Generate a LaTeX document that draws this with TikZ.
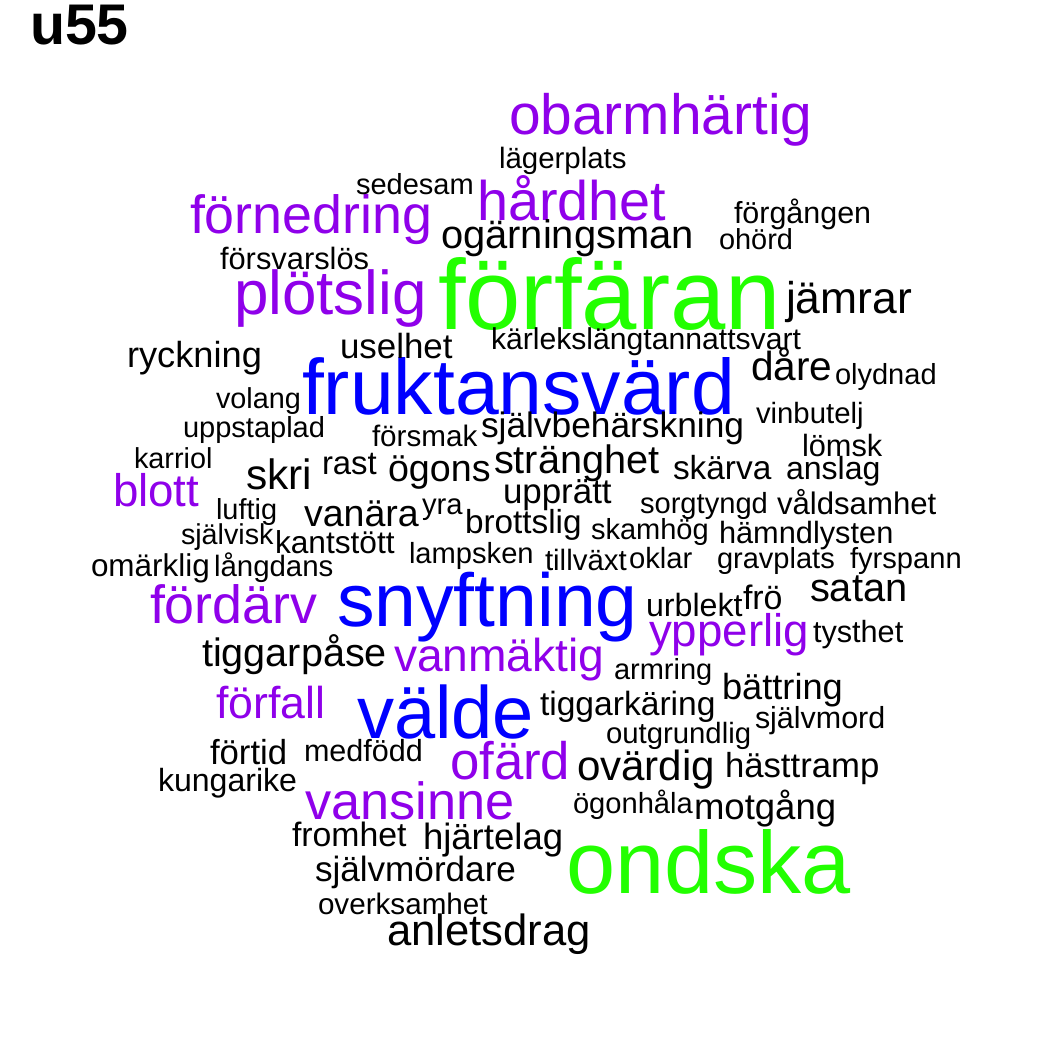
\documentclass[tikz,border=0pt]{standalone}
\usepackage{fontspec}
\setmainfont{Liberation Sans}
\definecolor{wpur}{RGB}{143,0,234}
\definecolor{wblu}{RGB}{0,0,255}
\definecolor{wgrn}{RGB}{34,255,0}
\newcommand\wfs[1]{\fontsize{\fpeval{#1*1.015}pt}{\fpeval{#1*1.015}pt}\selectfont}
\begin{document}
\begin{tikzpicture}[x=1pt,y=-1pt,
  word/.style={anchor=base west, inner sep=0pt, outer sep=0pt},
  blk/.style={word, text=black},
  pur/.style={word, text=wpur},
  blu/.style={word, text=wblu},
  grn/.style={word, text=wgrn}]
\fill[white] (0,0) rectangle (1050,1050);
\useasboundingbox (0,0) rectangle (1050,1050);
\begin{scope}[shift={(0,1.5)}]
\node[blk, font=\bfseries\wfs{56.5}] (title) at (30,43) {u55};
% green
\node[grn, font=\wfs{98}] (w1) at (438,328) {förfäran};
\node[grn, font=\wfs{87}] (w2) at (566,892) {ondska};
% blue
\node[blu, font=\wfs{77.5}] (w3) at (302,413) {fruktansvärd};
\node[blu, font=\wfs{74}] (w4) at (337,625) {snyftning};
\node[blu, font=\wfs{73}] (w5) at (357,737) {välde};
% purple
\node[pur, font=\wfs{56}] (w6) at (509,133) {obarmhärtig};
\node[pur, font=\wfs{55}] (w7) at (477,219) {hårdhet};
\node[pur, font=\wfs{53}] (w8) at (190,232) {förnedring};
\node[pur, font=\wfs{61}] (w9) at (234,313) {plötslig};
\node[pur, font=\wfs{45}] (w10) at (113,505) {blott};
\node[pur, font=\wfs{53}] (w11) at (150,622) {fördärv};
\node[pur, font=\wfs{45}] (w12) at (649,645) {ypperlig};
\node[pur, font=\wfs{45.5}] (w13) at (394,670) {vanmäktig};
\node[pur, font=\wfs{44}] (w14) at (216,717) {förfall};
\node[pur, font=\wfs{52}] (w15) at (450,778) {ofärd};
\node[pur, font=\wfs{51.5}] (w16) at (305,818) {vansinne};
% black
\node[blk, font=\wfs{29}] (w17) at (499,167) {lägerplats};
\node[blk, font=\wfs{28.6}] (w18) at (356,193) {sedesam};
\node[blk, font=\wfs{30}] (w19) at (734,222) {förgången};
\node[blk, font=\wfs{39.3}] (w20) at (441,247) {ogärningsman};
\node[blk, font=\wfs{28.5}] (w21) at (719,248) {ohörd};
\node[blk, font=\wfs{30.4}] (w22) at (220,268) {försvarslös};
\node[blk, font=\wfs{43.8}] (w23) at (786,312) {jämrar};
\node[blk, font=\wfs{29.7}] (w24) at (491,348) {kärlekslängtannattsvart};
\node[blk, font=\wfs{35.7}] (w25) at (127,366) {ryckning};
\node[blk, font=\wfs{34.4}] (w26) at (340,357) {uselhet};
\node[blk, font=\wfs{40}] (w27) at (751,379) {dåre};
\node[blk, font=\wfs{28.6}] (w28) at (835,383) {olydnad};
\node[blk, font=\wfs{28.4}] (w29) at (216,407) {volang};
\node[blk, font=\wfs{28.9}] (w30) at (756,422) {vinbutelj};
\node[blk, font=\wfs{28.6}] (w31) at (183,436) {uppstaplad};
\node[blk, font=\wfs{29.2}] (w32) at (372,445) {försmak};
\node[blk, font=\wfs{34.8}] (w33) at (481,436) {självbehärskning};
\node[blk, font=\wfs{30.3}] (w34) at (802,455) {lömsk};
\node[blk, font=\wfs{28.4}] (w35) at (134,467) {karriol};
\node[blk, font=\wfs{41.8}] (w36) at (246,488) {skri};
\node[blk, font=\wfs{32.4}] (w37) at (322,473) {rast};
\node[blk, font=\wfs{37.1}] (w38) at (388,480) {ögons};
\node[blk, font=\wfs{39.1}] (w39) at (494,472) {stränghet};
\node[blk, font=\wfs{32.9}] (w40) at (673,478) {skärva};
\node[blk, font=\wfs{31.6}] (w41) at (786,478) {anslag};
\node[blk, font=\wfs{34.4}] (w42) at (503,502) {upprätt};
\node[blk, font=\wfs{28.7}] (w43) at (640,512) {sorgtyngd};
\node[blk, font=\wfs{30.7}] (w44) at (777,513) {våldsamhet};
\node[blk, font=\wfs{28.5}] (w45) at (216,518) {luftig};
\node[blk, font=\wfs{37}] (w46) at (304,525) {vanära};
\node[blk, font=\wfs{28.8}] (w47) at (422,513) {yra};
\node[blk, font=\wfs{32.8}] (w48) at (465,532) {brottslig};
\node[blk, font=\wfs{28.6}] (w49) at (591,538) {skamhög};
\node[blk, font=\wfs{30.3}] (w50) at (719,542) {hämndlysten};
\node[blk, font=\wfs{28.3}] (w51) at (181,543) {självisk};
\node[blk, font=\wfs{31.2}] (w52) at (275,552) {kantstött};
\node[blk, font=\wfs{28.7}] (w53) at (409,562) {lampsken};
\node[blk, font=\wfs{29}] (w54) at (545,569) {tillväxt};
\node[blk, font=\wfs{28.8}] (w55) at (629,567) {oklar};
\node[blk, font=\wfs{28.6}] (w56) at (717,567) {gravplats};
\node[blk, font=\wfs{28.7}] (w57) at (850,567) {fyrspann};
\node[blk, font=\wfs{31}] (w58) at (91,575) {omärklig};
\node[blk, font=\wfs{29}] (w59) at (214,575) {långdans};
\node[blk, font=\wfs{39.2}] (w60) at (810,600) {satan};
\node[blk, font=\wfs{31.7}] (w61) at (646,615) {urblekt};
\node[blk, font=\wfs{33.4}] (w62) at (743,608) {frö};
\node[blk, font=\wfs{30.2}] (w63) at (813,641) {tysthet};
\node[blk, font=\wfs{39}] (w64) at (202,665) {tiggarpåse};
\node[blk, font=\wfs{28.6}] (w65) at (614,678) {armring};
\node[blk, font=\wfs{35.7}] (w66) at (722,698) {bättring};
\node[blk, font=\wfs{33.1}] (w67) at (540,714) {tiggarkäring};
\node[blk, font=\wfs{30}] (w68) at (755,727) {självmord};
\node[blk, font=\wfs{28.9}] (w69) at (606,742) {outgrundlig};
\node[blk, font=\wfs{34.2}] (w70) at (210,763) {förtid};
\node[blk, font=\wfs{30.1}] (w71) at (304,760) {medfödd};
\node[blk, font=\wfs{41.5}] (w72) at (577,779) {ovärdig};
\node[blk, font=\wfs{34.2}] (w73) at (725,776) {hästtramp};
\node[blk, font=\wfs{31.6}] (w74) at (158,790) {kungarike};
\node[blk, font=\wfs{28.7}] (w75) at (573,812) {ögonhåla};
\node[blk, font=\wfs{36}] (w76) at (694,818) {motgång};
\node[blk, font=\wfs{33.3}] (w77) at (292,845) {fromhet};
\node[blk, font=\wfs{36}] (w78) at (423,848) {hjärtelag};
\node[blk, font=\wfs{34.6}] (w79) at (315,880) {självmördare};
\node[blk, font=\wfs{29.2}] (w80) at (318,913) {overksamhet};
\node[blk, font=\wfs{43}] (w81) at (387,944) {anletsdrag};
\end{scope}
\end{tikzpicture}
\end{document}
